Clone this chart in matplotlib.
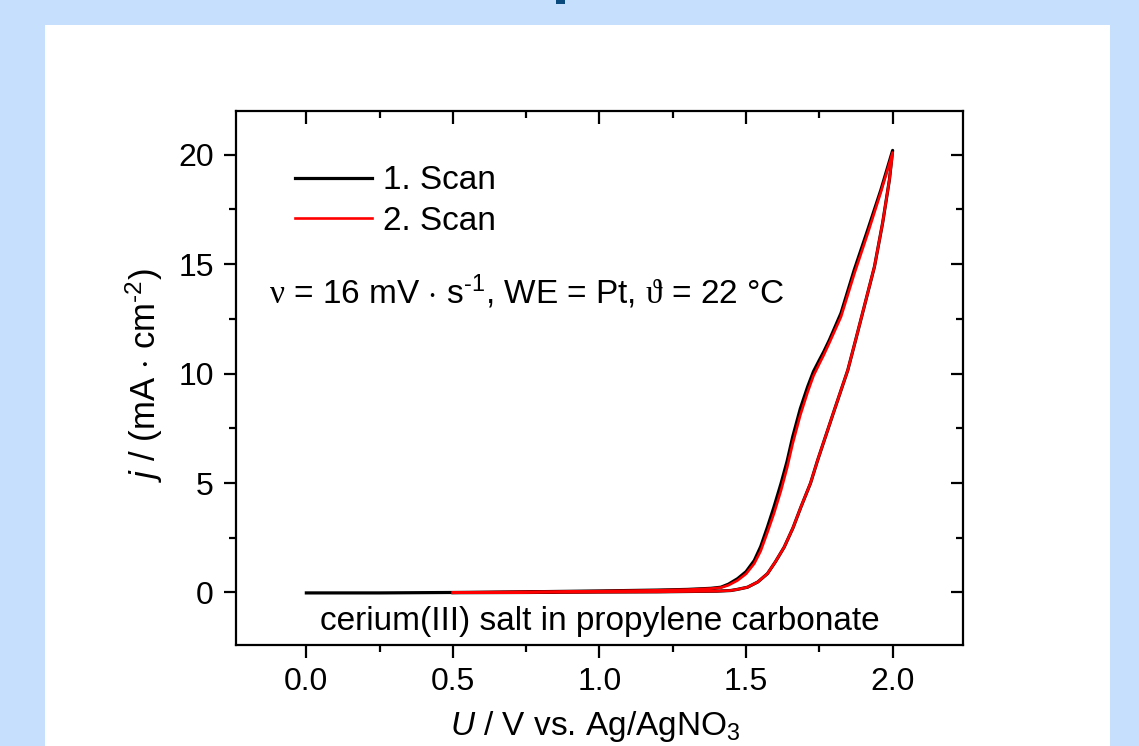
import matplotlib
matplotlib.use("Agg")
import matplotlib.pyplot as plt
from matplotlib.patches import Rectangle
from matplotlib.ticker import MultipleLocator

# scan 1 (black), forward sweep 0.0 -> 2.0 V
scan1_fwd_u = [0.0, 0.25, 0.5, 0.75, 1.0, 1.2, 1.3, 1.38, 1.414, 1.44, 1.471, 1.50,
               1.528, 1.55, 1.573, 1.595, 1.619, 1.64, 1.659, 1.685, 1.71, 1.73,
               1.75, 1.765, 1.784, 1.824, 1.869, 1.915, 1.96, 2.0]
scan1_fwd_j = [-0.02, -0.02, 0.0, 0.03, 0.07, 0.11, 0.14, 0.19, 0.24, 0.38, 0.63, 0.95,
               1.46, 2.1, 2.99, 3.9, 4.97, 6.0, 7.11, 8.4, 9.4, 10.1,
               10.62, 11.0, 11.53, 12.77, 14.74, 16.57, 18.4, 20.2]
# reverse sweep 2.0 -> 0.5 V (both scans nearly identical)
rev_u = [2.0, 1.989, 1.966, 1.938, 1.903, 1.875, 1.847, 1.801, 1.744, 1.72, 1.687,
         1.66, 1.63, 1.60, 1.573, 1.54, 1.505, 1.47, 1.448, 1.4, 1.2, 1.0, 0.75, 0.5]
rev_j = [20.2, 18.86, 16.9, 14.89, 13.06, 11.6, 10.16, 8.33, 6.04, 5.0, 3.9,
         2.95, 2.07, 1.4, 0.86, 0.48, 0.24, 0.14, 0.09, 0.06, 0.03, 0.02, 0.0, -0.01]
# scan 2 (red), forward sweep 0.5 -> 2.0 V
scan2_fwd_u = [0.5, 0.75, 1.0, 1.2, 1.3, 1.38, 1.414, 1.44, 1.471, 1.50, 1.528, 1.55,
               1.573, 1.595, 1.619, 1.64, 1.659, 1.685, 1.71, 1.73, 1.75, 1.765,
               1.784, 1.824, 1.869, 1.915, 1.96, 2.0]
scan2_fwd_j = [0.0, 0.03, 0.06, 0.1, 0.13, 0.18, 0.22, 0.33, 0.55, 0.85, 1.32, 1.9,
               2.75, 3.6, 4.65, 5.7, 6.8, 8.1, 9.15, 9.9, 10.45, 10.85,
               11.4, 12.6, 14.55, 16.4, 18.3, 20.1]

x_ticks = [0.0, 0.5, 1.0, 1.5, 2.0]
y_ticks = [0, 5, 10, 15, 20]

plt.rcParams['font.family'] = ['Liberation Sans', 'DejaVu Sans']
plt.rcParams['mathtext.fontset'] = 'custom'
plt.rcParams['mathtext.rm'] = 'Liberation Sans'
plt.rcParams['mathtext.it'] = 'Liberation Sans:italic'
plt.rcParams['mathtext.bf'] = 'Liberation Sans:bold'
plt.rcParams['mathtext.sf'] = 'Liberation Serif'

fig = plt.figure(figsize=(11.39, 7.46), dpi=100, facecolor='#c6dffc')
# white slide panel
fig.patches.append(Rectangle((45 / 1139, 0), 1065 / 1139, 721 / 746,
                             transform=fig.transFigure, facecolor='white',
                             edgecolor='none', zorder=-2))
# cut-off title glyph at the top
fig.patches.append(Rectangle((556 / 1139, 742 / 746), 9 / 1139, 4 / 746,
                             transform=fig.transFigure, facecolor='#0b4a7d',
                             edgecolor='none', zorder=-1))

ax = fig.add_axes([236 / 1139, 101 / 746, 727 / 1139, 534 / 746])
ax.set_zorder(2)
ax.set_facecolor('none')

u1 = scan1_fwd_u + rev_u[1:]
j1 = scan1_fwd_j + rev_j[1:]
u2 = scan2_fwd_u + rev_u[1:]
j2 = scan2_fwd_j + rev_j[1:]
ax.plot(u1, j1, color='black', lw=2.3, label='1. Scan', solid_joinstyle='round')
ax.plot(u2, j2, color='red', lw=1.9, label='2. Scan', solid_joinstyle='round')

ax.set_xlim(-0.24, 2.24)
ax.set_ylim(-2.4, 22)
ax.set_xticks(x_ticks)
ax.set_xticklabels(['%.1f' % v for v in x_ticks])
ax.set_yticks(y_ticks)
ax.xaxis.set_minor_locator(MultipleLocator(0.25))
ax.yaxis.set_minor_locator(MultipleLocator(2.5))

for s in ax.spines.values():
    s.set_linewidth(1.6)
ax.tick_params(which='both', top=True, right=True, width=1.6, labelsize=23)
ax.tick_params(which='major', length=9, pad=7)
ax.tick_params(which='minor', length=5)
ax.tick_params(axis='x', which='both', direction='out')
ax.tick_params(axis='y', which='both', direction='out')
# mirrored ticks point inward on top/right
for t in ax.xaxis.get_major_ticks() + ax.xaxis.get_minor_ticks():
    t.tick2line.set_marker(3)
for t in ax.yaxis.get_major_ticks() + ax.yaxis.get_minor_ticks():
    t.tick2line.set_marker(0)

ax.set_xlabel(r'$U$ / V vs. Ag/AgNO$_3$', fontsize=24, va='baseline')
ax.xaxis.set_label_coords(0.494, -0.1685)
ax.set_ylabel(r'$j$ / (mA $\cdot$ cm$^{\text{-}2}$)', fontsize=25)
ax.yaxis.set_label_coords(-0.098, 0.506)

ax.legend(loc='upper left', bbox_to_anchor=(0.081, 0.898), frameon=False,
          fontsize=24, handlelength=2.3, handletextpad=0.33, labelspacing=0.28,
          borderaxespad=0, borderpad=0)

ax.text(0.046, 0.640,
        r'$\mathsf{\nu}$ = 16 mV $\cdot$ s$^{\text{-}1}$, WE = Pt, $\mathsf{\vartheta}$ = 22 °C',
        transform=ax.transAxes, fontsize=24, ha='left', va='baseline')
ax.text(0.501, 0.028, 'cerium(III) salt in propylene carbonate',
        transform=ax.transAxes, fontsize=24, ha='center', va='baseline')

fig.savefig('out.png', dpi=100, facecolor=fig.get_facecolor())
